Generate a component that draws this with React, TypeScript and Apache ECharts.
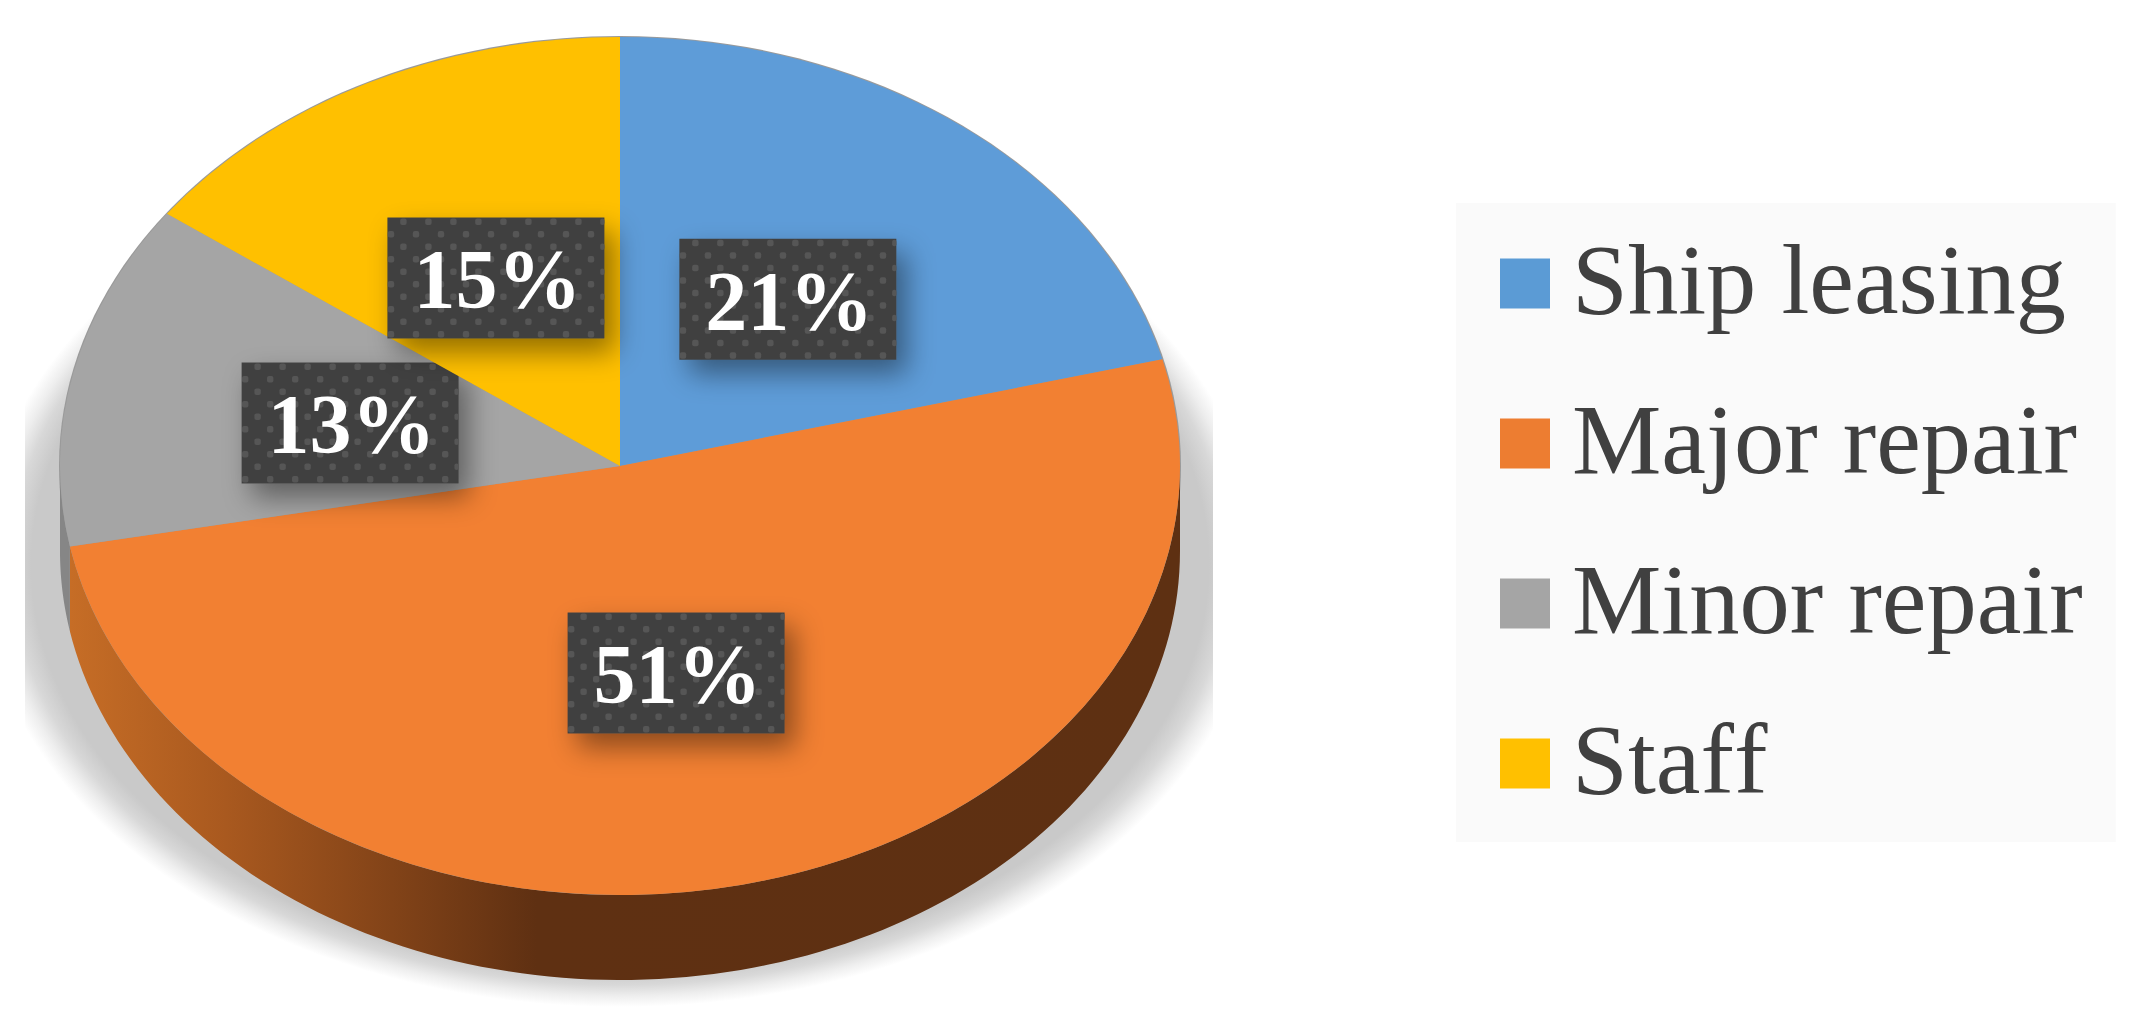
import React, { useEffect, useRef } from "react";
import * as echarts from "echarts";

const categories = ["Ship leasing", "Major repair", "Minor repair", "Staff"];
const shareValues = [21, 51, 13, 15];
const legendColors = ["#5B9BD5", "#ED7D31", "#A5A5A5", "#FFC000"];
const sliceColors = ["#5E9CD8", "#F28032", "#A5A5A5", "#FFC000"];

const WIDTH = 2142;
const HEIGHT = 1029;
const CX = 620;
const CY = 466;
const RX = 560;
const RY = 429;
const DEPTH = 85;
const LABEL_W = 217;
const LABEL_H = 121;
const LABEL_RADIUS = 0.492;
const labelNudge = [
  [-1, 0],
  [-4, 1],
  [-1, 3],
  [1, 0],
];
const SERIF = '"Liberation Serif", "Times New Roman", serif';

const total = shareValues.reduce((a, b) => a + b, 0);
const startFraction = (i: number) =>
  shareValues.slice(0, i).reduce((a, b) => a + b, 0) / total;
const toAngle = (f: number) => -Math.PI / 2 + 2 * Math.PI * f;

function sidePolygon(a0: number, a1: number, fill: any) {
  const from = Math.max(a0, 0);
  const to = Math.min(a1, Math.PI);
  if (to <= from) return null;
  const top: number[][] = [];
  const bottom: number[][] = [];
  const steps = 120;
  for (let k = 0; k <= steps; k++) {
    const a = from + ((to - from) * k) / steps;
    const x = CX + RX * Math.cos(a);
    const y = CY + RY * Math.sin(a);
    top.push([x, y]);
    bottom.unshift([x, y + DEPTH]);
  }
  return {
    type: "polygon",
    shape: { points: top.concat(bottom) },
    style: { fill },
    silent: true,
  };
}

const wallFills: any[] = [
  "#5E3012",
  {
    type: "linear",
    x: 0,
    y: 0,
    x2: 1,
    y2: 0,
    colorStops: [
      { offset: 0, color: "#C66D26" },
      { offset: 0.14, color: "#A9591F" },
      { offset: 0.29, color: "#824318" },
      { offset: 0.42, color: "#5F3012" },
      { offset: 1, color: "#5E3012" },
    ],
  },
  "#868686",
  "#868686",
];

function labelDots(x: number, y: number) {
  const dots: any[] = [];
  for (let row = 0; row < 10; row++) {
    const cy = y + 4.3 + row * 12.5;
    const first = row % 2 === 0 ? 16 : 3.6;
    for (let cx = x + first; cx < x + LABEL_W + 3; cx += 25) {
      const l = Math.max(cx - 3.2, x);
      const r = Math.min(cx + 3.2, x + LABEL_W);
      const t = Math.max(cy - 3.2, y);
      const b = Math.min(cy + 3.2, y + LABEL_H);
      if (r <= l || b <= t) continue;
      dots.push({
        type: "rect",
        shape: { x: l, y: t, width: r - l, height: b - t, r: 2 },
        style: { fill: "#565656" },
        silent: true,
      });
    }
  }
  return dots;
}

function renderSlice(index: number) {
  return (_params: any, api: any) => {
    const value = api.value(0);
    const f0 = startFraction(index);
    const f1 = f0 + value / total;
    const a0 = toAngle(f0);
    const a1 = toAngle(f1);
    const mid = (a0 + a1) / 2;
    const lx = CX + RX * LABEL_RADIUS * Math.cos(mid) + labelNudge[index][0];
    const ly = CY + RY * LABEL_RADIUS * Math.sin(mid) + labelNudge[index][1];
    const rx = lx - LABEL_W / 2;
    const ry = ly - LABEL_H / 2;
    const children: any[] = [];
    const wall = sidePolygon(a0, a1, wallFills[index]);
    if (wall) children.push(wall);
    children.push({
      type: "sector",
      x: CX,
      y: CY,
      scaleY: RY / RX,
      shape: {
        cx: 0,
        cy: 0,
        r0: 0,
        r: RX,
        startAngle: a0,
        endAngle: a1,
        clockwise: true,
      },
      style: { fill: sliceColors[index] },
      silent: true,
    });
    children.push({
      type: "rect",
      shape: { x: rx, y: ry, width: LABEL_W, height: LABEL_H },
      style: {
        fill: "#404040",
        shadowColor: "rgba(0,0,0,0.42)",
        shadowBlur: 28,
        shadowOffsetX: 10,
        shadowOffsetY: 14,
      },
      silent: true,
    });
    children.push(...labelDots(rx, ry));
    children.push({
      type: "text",
      style: {
        text: `${value}%`,
        x: lx + 1.5,
        y: ly + 2,
        textAlign: "center",
        textVerticalAlign: "middle",
        fontFamily: SERIF,
        fontWeight: "bold",
        fontSize: 84,
        fill: "#FFFFFF",
      },
      silent: true,
    });
    return { type: "group", children };
  };
}

function renderBase() {
  return {
    type: "group",
    children: [
      {
        type: "ellipse",
        shape: { cx: CX, cy: CY + 99, rx: 640, ry: 442 },
        style: {
          fill: {
            type: "radial",
            x: 0.5,
            y: 0.5,
            r: 0.5,
            colorStops: [
              { offset: 0, color: "#C9C9C9" },
              { offset: 0.92, color: "#C9C9C9" },
              { offset: 0.95, color: "#D8D8D8" },
              { offset: 0.975, color: "#EEEEEE" },
              { offset: 1, color: "#FFFFFF" },
            ],
          },
        },
        clipPath: {
          type: "rect",
          shape: { x: 25, y: 0, width: 1188, height: HEIGHT },
        },
        silent: true,
      },
      {
        type: "ellipse",
        shape: { cx: CX, cy: CY, rx: RX + 1, ry: RY + 1 },
        style: { fill: "#9A9A9A" },
        silent: true,
      },
    ],
  };
}

export default function App() {
  const ref = useRef<HTMLDivElement>(null);
  useEffect(() => {
    if (!ref.current) return;
    const chart = echarts.init(ref.current, undefined, { renderer: "svg" });
    chart.setOption({
      animation: false,
      backgroundColor: "#FFFFFF",
      legend: {
        data: categories,
        orient: "vertical",
        left: 1456,
        top: 203,
        padding: [25, 33, 23, 44],
        backgroundColor: "#FAFAFA",
        icon: "rect",
        itemWidth: 50,
        itemHeight: 50,
        itemGap: 49,
        selectedMode: false,
        formatter: "{t|{name}}",
        textStyle: {
          rich: {
            t: {
              fontFamily: SERIF,
              fontSize: 100.5,
              lineHeight: 110,
              color: "#404040",
              padding: [0, 0, 10, 17],
            },
          },
        },
      },
      series: [
        {
          type: "custom",
          name: "base",
          coordinateSystem: "none",
          silent: true,
          data: [[0]],
          renderItem: renderBase,
        },
        ...categories.map((name, i) => ({
          type: "custom",
          name,
          coordinateSystem: "none",
          silent: true,
          itemStyle: { color: legendColors[i] },
          data: [[shareValues[i]]],
          renderItem: renderSlice(i),
        })),
      ],
    });
    return () => chart.dispose();
  }, []);
  return (
    <div
      ref={ref}
      style={{
        position: "fixed",
        left: 0,
        top: 0,
        width: WIDTH,
        height: HEIGHT,
        fontKerning: "none",
        fontVariantLigatures: "none",
        fontFeatureSettings: '"liga" 0, "kern" 0',
      }}
    />
  );
}
